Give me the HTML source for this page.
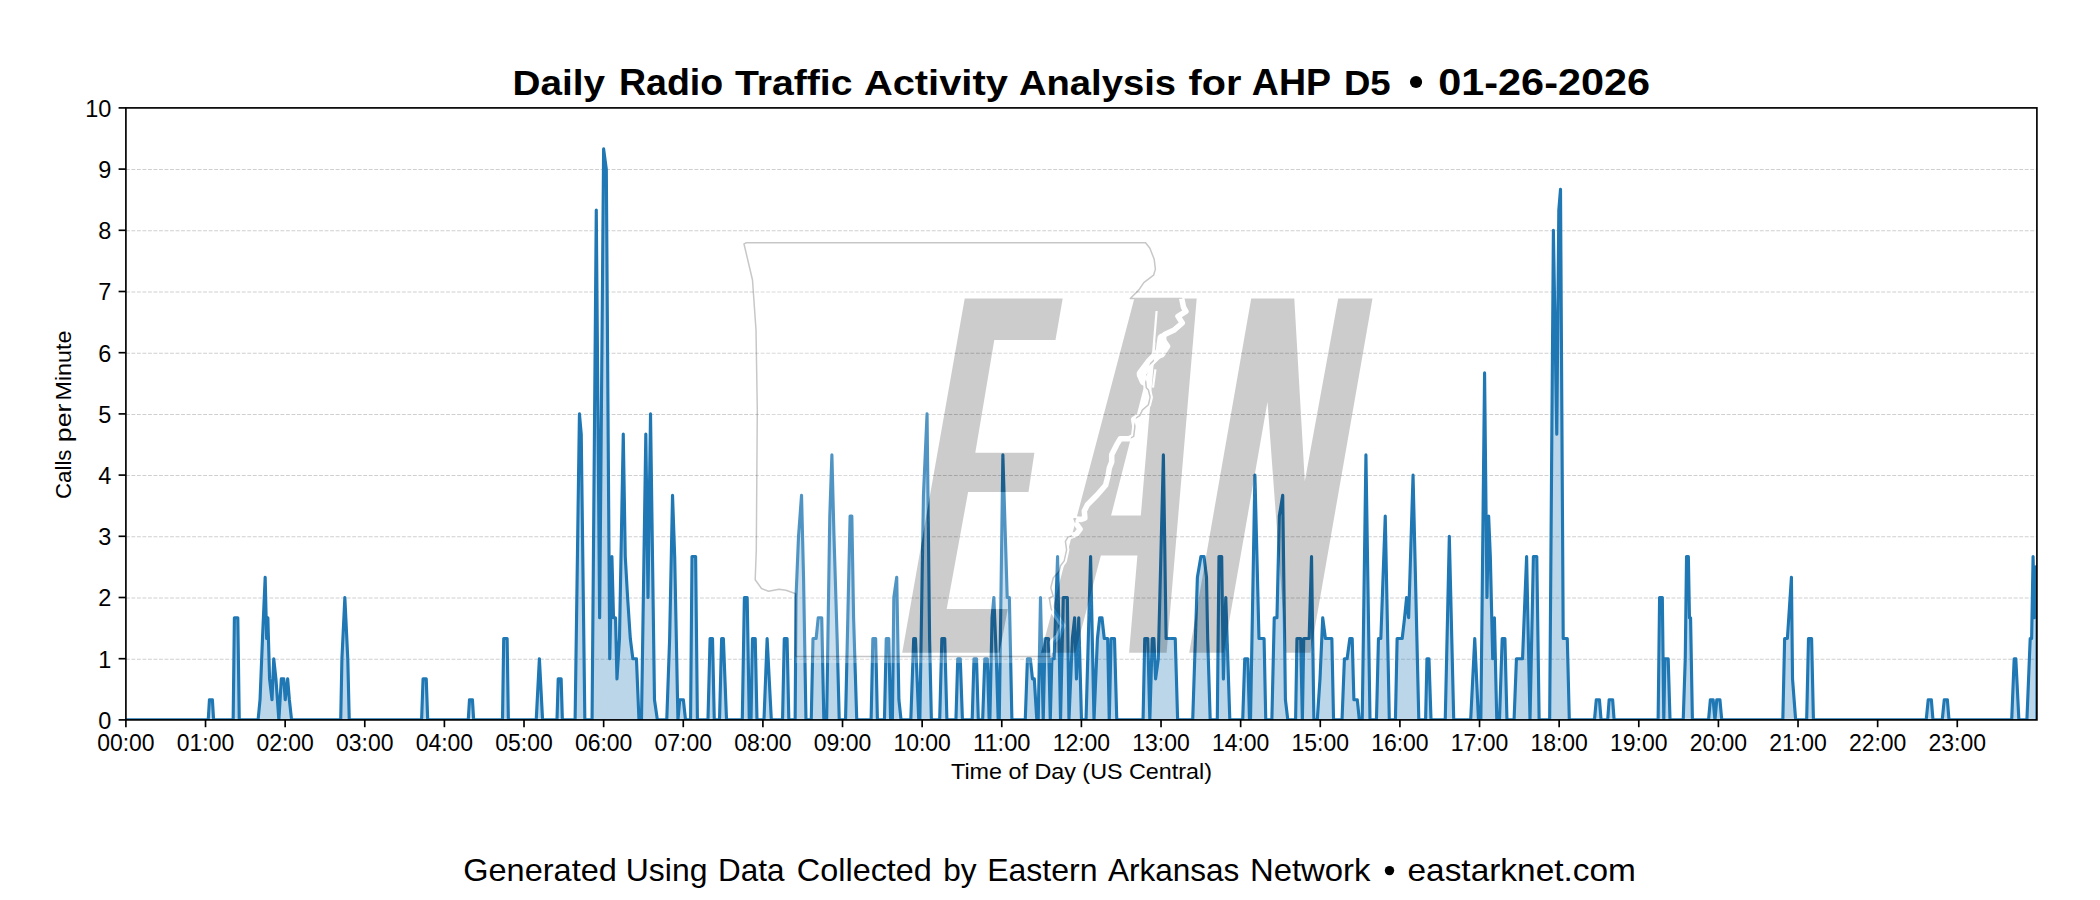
<!DOCTYPE html><html><head><meta charset="utf-8"><style>html,body{margin:0;padding:0;background:#fff;width:2100px;height:900px;overflow:hidden}svg{display:block}text{font-family:"Liberation Sans",sans-serif}</style></head><body>
<svg width="2100" height="900" viewBox="0 0 2100 900">
<line x1="125.9" y1="659.20" x2="2036.9" y2="659.20" stroke="#cfcfcf" stroke-width="1.04" stroke-dasharray="3.85 1.67"/>
<line x1="125.9" y1="598.00" x2="2036.9" y2="598.00" stroke="#cfcfcf" stroke-width="1.04" stroke-dasharray="3.85 1.67"/>
<line x1="125.9" y1="536.80" x2="2036.9" y2="536.80" stroke="#cfcfcf" stroke-width="1.04" stroke-dasharray="3.85 1.67"/>
<line x1="125.9" y1="475.60" x2="2036.9" y2="475.60" stroke="#cfcfcf" stroke-width="1.04" stroke-dasharray="3.85 1.67"/>
<line x1="125.9" y1="414.40" x2="2036.9" y2="414.40" stroke="#cfcfcf" stroke-width="1.04" stroke-dasharray="3.85 1.67"/>
<line x1="125.9" y1="353.20" x2="2036.9" y2="353.20" stroke="#cfcfcf" stroke-width="1.04" stroke-dasharray="3.85 1.67"/>
<line x1="125.9" y1="292.00" x2="2036.9" y2="292.00" stroke="#cfcfcf" stroke-width="1.04" stroke-dasharray="3.85 1.67"/>
<line x1="125.9" y1="230.80" x2="2036.9" y2="230.80" stroke="#cfcfcf" stroke-width="1.04" stroke-dasharray="3.85 1.67"/>
<line x1="125.9" y1="169.60" x2="2036.9" y2="169.60" stroke="#cfcfcf" stroke-width="1.04" stroke-dasharray="3.85 1.67"/>
<defs><clipPath id="cp"><rect x="125.9" y="107.9" width="1911.0" height="612.0"/></clipPath></defs>
<g clip-path="url(#cp)"><polygon points="125.90,719.9 125.90,719.90 208.23,719.90 209.45,699.70 212.38,699.70 213.61,719.90 233.16,719.90 234.38,617.70 237.80,617.70 239.27,719.90 258.09,719.90 260.04,699.70 262.49,638.50 265.17,577.30 266.64,638.50 267.86,617.70 269.57,678.90 272.02,699.70 273.73,658.70 275.93,678.90 278.86,719.90 281.31,678.90 283.75,678.90 285.22,699.70 287.66,678.90 289.37,699.70 291.57,719.90 340.70,719.90 341.92,658.70 344.85,597.50 347.78,658.70 349.25,719.90 421.59,719.90 423.06,678.90 426.24,678.90 427.70,719.90 468.27,719.90 469.49,699.70 472.43,699.70 473.65,719.90 502.49,719.90 503.71,638.50 507.13,638.50 508.35,719.90 536.22,719.90 539.39,658.70 542.57,719.90 556.99,719.90 558.21,678.90 561.15,678.90 562.37,719.90 575.10,719.90 579.43,413.90 581.24,434.10 584.85,719.90 592.06,719.90 596.28,210.10 599.64,617.70 603.61,148.90 606.31,169.10 609.74,658.70 611.91,556.50 613.53,617.70 615.52,617.70 616.96,678.90 619.48,638.50 623.27,434.10 625.26,556.50 627.60,597.50 630.31,638.50 632.84,658.70 636.44,658.70 638.97,719.90 641.49,719.90 645.82,434.10 647.99,597.50 650.52,413.90 654.48,699.70 657.37,719.90 666.75,719.90 669.64,638.50 672.53,495.30 674.69,556.50 677.94,719.90 679.74,699.70 683.35,699.70 685.52,719.90 690.57,719.90 692.01,556.50 695.62,556.50 697.42,719.90 707.97,719.90 710.07,638.50 712.52,638.50 714.27,719.90 719.52,719.90 721.62,638.50 723.38,638.50 726.53,719.90 742.28,719.90 744.38,597.50 747.18,597.50 749.28,719.90 751.03,719.90 752.43,638.50 755.23,638.50 756.98,719.90 763.98,719.90 767.13,638.50 771.33,719.90 782.53,719.90 784.28,638.50 787.08,638.50 788.83,719.90 795.14,719.90 796.01,597.50 798.53,536.30 801.54,495.30 803.54,577.30 805.99,719.90 811.24,719.90 812.99,638.50 816.14,638.50 818.24,617.70 821.74,617.70 823.84,719.90 826.64,719.90 829.79,516.10 831.89,454.90 833.99,536.30 837.14,638.50 839.24,719.90 845.54,719.90 850.09,516.10 851.84,516.10 853.59,617.70 856.75,719.90 871.10,719.90 872.85,638.50 875.65,638.50 877.40,719.90 884.44,719.90 886.25,638.50 888.78,638.50 890.58,719.90 892.39,719.90 893.83,597.50 896.72,577.30 898.89,699.70 901.05,719.90 910.80,719.90 913.69,638.50 915.49,638.50 918.74,719.90 919.83,719.90 923.44,495.30 927.05,413.90 929.58,638.50 931.38,719.90 939.69,719.90 941.85,638.50 944.74,638.50 946.91,719.90 955.93,719.90 957.74,658.70 960.27,658.70 962.43,719.90 972.18,719.90 973.99,658.70 976.51,658.70 978.32,719.90 982.65,719.90 984.82,658.70 987.35,658.70 989.15,719.90 989.87,719.90 992.04,617.70 993.85,597.50 996.37,658.70 998.18,719.90 999.26,719.90 1002.87,454.90 1007.21,597.50 1009.37,597.50 1011.90,719.90 1025.26,719.90 1027.43,658.70 1030.31,658.70 1032.48,678.90 1034.29,678.90 1036.81,719.90 1038.22,719.90 1040.49,597.50 1043.23,719.90 1045.05,638.50 1048.46,638.50 1050.28,719.90 1051.88,658.70 1054.16,658.70 1057.57,556.50 1060.53,719.90 1063.26,597.50 1067.36,597.50 1068.96,719.90 1072.37,638.50 1074.65,617.70 1076.47,678.90 1078.75,617.70 1081.48,719.90 1086.03,719.90 1090.59,556.50 1094.00,719.90 1097.42,638.50 1099.70,617.70 1101.97,617.70 1104.25,638.50 1107.67,638.50 1109.26,719.90 1111.08,638.50 1114.50,638.50 1116.77,719.90 1143.05,719.90 1144.75,638.50 1147.80,638.50 1149.83,719.90 1152.20,638.50 1153.90,638.50 1155.59,678.90 1158.31,658.70 1163.39,454.90 1166.10,638.50 1175.25,638.50 1177.63,719.90 1192.71,719.90 1195.39,638.50 1197.39,577.30 1200.92,556.50 1204.00,556.50 1206.51,577.30 1207.69,638.50 1210.20,719.90 1217.29,719.90 1218.98,556.50 1221.69,556.50 1223.39,678.90 1225.76,597.50 1229.83,719.90 1242.71,719.90 1244.75,658.70 1247.80,658.70 1249.49,719.90 1250.51,719.90 1254.92,475.10 1258.98,638.50 1264.07,638.50 1265.76,719.90 1271.86,719.90 1274.24,617.70 1276.95,617.70 1279.32,516.10 1282.71,495.30 1285.42,699.70 1287.80,719.90 1295.59,719.90 1296.95,638.50 1300.68,638.50 1302.37,719.90 1303.73,638.50 1309.15,638.50 1311.53,556.50 1313.90,719.90 1317.29,719.90 1320.00,678.90 1322.71,617.70 1325.42,638.50 1331.86,638.50 1333.56,719.90 1342.03,719.90 1344.41,658.70 1347.12,658.70 1349.83,638.50 1352.20,638.50 1353.90,699.70 1357.29,699.70 1359.32,719.90 1362.20,719.90 1365.93,454.90 1370.00,719.90 1376.44,719.90 1378.47,638.50 1380.85,638.50 1385.25,516.10 1389.32,719.90 1395.42,719.90 1397.12,638.50 1402.20,638.50 1404.58,617.70 1406.61,597.50 1408.64,617.70 1413.05,475.10 1418.81,719.90 1425.59,719.90 1426.95,658.70 1428.98,658.70 1431.02,719.90 1445.25,719.90 1449.32,536.30 1453.73,719.90 1470.68,719.90 1474.75,638.50 1478.47,719.90 1480.85,719.90 1484.58,372.90 1486.95,597.50 1488.64,516.10 1490.34,556.50 1492.71,658.70 1494.41,617.70 1496.78,719.90 1499.49,719.90 1502.20,638.50 1504.92,638.50 1506.95,719.90 1514.07,719.90 1516.44,658.70 1522.54,658.70 1526.61,556.50 1530.00,719.90 1533.39,556.50 1536.78,556.50 1539.15,719.90 1549.66,719.90 1553.39,230.30 1556.78,434.10 1558.81,210.10 1560.51,189.30 1563.22,638.50 1567.29,638.50 1569.32,719.90 1594.48,719.90 1596.31,699.70 1599.43,699.70 1601.08,719.90 1607.68,719.90 1609.15,699.70 1612.63,699.70 1614.10,719.90 1658.11,719.90 1659.58,597.50 1662.33,597.50 1663.79,719.90 1664.89,658.70 1668.19,658.70 1670.03,719.90 1683.23,719.90 1685.25,658.70 1686.53,556.50 1688.37,556.50 1689.47,617.70 1690.57,617.70 1692.40,719.90 1708.54,719.90 1710.37,699.70 1713.12,699.70 1714.96,719.90 1716.79,699.70 1719.91,699.70 1721.74,719.90 1782.81,719.90 1784.64,638.50 1787.39,638.50 1791.43,577.30 1792.53,678.90 1795.64,719.90 1806.65,719.90 1808.48,638.50 1811.60,638.50 1813.43,719.90 1926.19,719.90 1928.24,699.70 1931.33,699.70 1932.97,719.90 1942.22,719.90 1944.28,699.70 1947.36,699.70 1949.01,719.90 2011.70,719.90 2014.17,658.70 2015.81,658.70 2018.89,719.90 2026.91,719.90 2030.20,638.50 2031.64,638.50 2033.08,556.50 2034.31,617.70 2035.75,566.90 2037.19,577.30 2036.90,719.90 2036.90,719.9" fill="#1f77b4" fill-opacity="0.3"/>
<polyline points="125.90,719.90 208.23,719.90 209.45,699.70 212.38,699.70 213.61,719.90 233.16,719.90 234.38,617.70 237.80,617.70 239.27,719.90 258.09,719.90 260.04,699.70 262.49,638.50 265.17,577.30 266.64,638.50 267.86,617.70 269.57,678.90 272.02,699.70 273.73,658.70 275.93,678.90 278.86,719.90 281.31,678.90 283.75,678.90 285.22,699.70 287.66,678.90 289.37,699.70 291.57,719.90 340.70,719.90 341.92,658.70 344.85,597.50 347.78,658.70 349.25,719.90 421.59,719.90 423.06,678.90 426.24,678.90 427.70,719.90 468.27,719.90 469.49,699.70 472.43,699.70 473.65,719.90 502.49,719.90 503.71,638.50 507.13,638.50 508.35,719.90 536.22,719.90 539.39,658.70 542.57,719.90 556.99,719.90 558.21,678.90 561.15,678.90 562.37,719.90 575.10,719.90 579.43,413.90 581.24,434.10 584.85,719.90 592.06,719.90 596.28,210.10 599.64,617.70 603.61,148.90 606.31,169.10 609.74,658.70 611.91,556.50 613.53,617.70 615.52,617.70 616.96,678.90 619.48,638.50 623.27,434.10 625.26,556.50 627.60,597.50 630.31,638.50 632.84,658.70 636.44,658.70 638.97,719.90 641.49,719.90 645.82,434.10 647.99,597.50 650.52,413.90 654.48,699.70 657.37,719.90 666.75,719.90 669.64,638.50 672.53,495.30 674.69,556.50 677.94,719.90 679.74,699.70 683.35,699.70 685.52,719.90 690.57,719.90 692.01,556.50 695.62,556.50 697.42,719.90 707.97,719.90 710.07,638.50 712.52,638.50 714.27,719.90 719.52,719.90 721.62,638.50 723.38,638.50 726.53,719.90 742.28,719.90 744.38,597.50 747.18,597.50 749.28,719.90 751.03,719.90 752.43,638.50 755.23,638.50 756.98,719.90 763.98,719.90 767.13,638.50 771.33,719.90 782.53,719.90 784.28,638.50 787.08,638.50 788.83,719.90 795.14,719.90 796.01,597.50 798.53,536.30 801.54,495.30 803.54,577.30 805.99,719.90 811.24,719.90 812.99,638.50 816.14,638.50 818.24,617.70 821.74,617.70 823.84,719.90 826.64,719.90 829.79,516.10 831.89,454.90 833.99,536.30 837.14,638.50 839.24,719.90 845.54,719.90 850.09,516.10 851.84,516.10 853.59,617.70 856.75,719.90 871.10,719.90 872.85,638.50 875.65,638.50 877.40,719.90 884.44,719.90 886.25,638.50 888.78,638.50 890.58,719.90 892.39,719.90 893.83,597.50 896.72,577.30 898.89,699.70 901.05,719.90 910.80,719.90 913.69,638.50 915.49,638.50 918.74,719.90 919.83,719.90 923.44,495.30 927.05,413.90 929.58,638.50 931.38,719.90 939.69,719.90 941.85,638.50 944.74,638.50 946.91,719.90 955.93,719.90 957.74,658.70 960.27,658.70 962.43,719.90 972.18,719.90 973.99,658.70 976.51,658.70 978.32,719.90 982.65,719.90 984.82,658.70 987.35,658.70 989.15,719.90 989.87,719.90 992.04,617.70 993.85,597.50 996.37,658.70 998.18,719.90 999.26,719.90 1002.87,454.90 1007.21,597.50 1009.37,597.50 1011.90,719.90 1025.26,719.90 1027.43,658.70 1030.31,658.70 1032.48,678.90 1034.29,678.90 1036.81,719.90 1038.22,719.90 1040.49,597.50 1043.23,719.90 1045.05,638.50 1048.46,638.50 1050.28,719.90 1051.88,658.70 1054.16,658.70 1057.57,556.50 1060.53,719.90 1063.26,597.50 1067.36,597.50 1068.96,719.90 1072.37,638.50 1074.65,617.70 1076.47,678.90 1078.75,617.70 1081.48,719.90 1086.03,719.90 1090.59,556.50 1094.00,719.90 1097.42,638.50 1099.70,617.70 1101.97,617.70 1104.25,638.50 1107.67,638.50 1109.26,719.90 1111.08,638.50 1114.50,638.50 1116.77,719.90 1143.05,719.90 1144.75,638.50 1147.80,638.50 1149.83,719.90 1152.20,638.50 1153.90,638.50 1155.59,678.90 1158.31,658.70 1163.39,454.90 1166.10,638.50 1175.25,638.50 1177.63,719.90 1192.71,719.90 1195.39,638.50 1197.39,577.30 1200.92,556.50 1204.00,556.50 1206.51,577.30 1207.69,638.50 1210.20,719.90 1217.29,719.90 1218.98,556.50 1221.69,556.50 1223.39,678.90 1225.76,597.50 1229.83,719.90 1242.71,719.90 1244.75,658.70 1247.80,658.70 1249.49,719.90 1250.51,719.90 1254.92,475.10 1258.98,638.50 1264.07,638.50 1265.76,719.90 1271.86,719.90 1274.24,617.70 1276.95,617.70 1279.32,516.10 1282.71,495.30 1285.42,699.70 1287.80,719.90 1295.59,719.90 1296.95,638.50 1300.68,638.50 1302.37,719.90 1303.73,638.50 1309.15,638.50 1311.53,556.50 1313.90,719.90 1317.29,719.90 1320.00,678.90 1322.71,617.70 1325.42,638.50 1331.86,638.50 1333.56,719.90 1342.03,719.90 1344.41,658.70 1347.12,658.70 1349.83,638.50 1352.20,638.50 1353.90,699.70 1357.29,699.70 1359.32,719.90 1362.20,719.90 1365.93,454.90 1370.00,719.90 1376.44,719.90 1378.47,638.50 1380.85,638.50 1385.25,516.10 1389.32,719.90 1395.42,719.90 1397.12,638.50 1402.20,638.50 1404.58,617.70 1406.61,597.50 1408.64,617.70 1413.05,475.10 1418.81,719.90 1425.59,719.90 1426.95,658.70 1428.98,658.70 1431.02,719.90 1445.25,719.90 1449.32,536.30 1453.73,719.90 1470.68,719.90 1474.75,638.50 1478.47,719.90 1480.85,719.90 1484.58,372.90 1486.95,597.50 1488.64,516.10 1490.34,556.50 1492.71,658.70 1494.41,617.70 1496.78,719.90 1499.49,719.90 1502.20,638.50 1504.92,638.50 1506.95,719.90 1514.07,719.90 1516.44,658.70 1522.54,658.70 1526.61,556.50 1530.00,719.90 1533.39,556.50 1536.78,556.50 1539.15,719.90 1549.66,719.90 1553.39,230.30 1556.78,434.10 1558.81,210.10 1560.51,189.30 1563.22,638.50 1567.29,638.50 1569.32,719.90 1594.48,719.90 1596.31,699.70 1599.43,699.70 1601.08,719.90 1607.68,719.90 1609.15,699.70 1612.63,699.70 1614.10,719.90 1658.11,719.90 1659.58,597.50 1662.33,597.50 1663.79,719.90 1664.89,658.70 1668.19,658.70 1670.03,719.90 1683.23,719.90 1685.25,658.70 1686.53,556.50 1688.37,556.50 1689.47,617.70 1690.57,617.70 1692.40,719.90 1708.54,719.90 1710.37,699.70 1713.12,699.70 1714.96,719.90 1716.79,699.70 1719.91,699.70 1721.74,719.90 1782.81,719.90 1784.64,638.50 1787.39,638.50 1791.43,577.30 1792.53,678.90 1795.64,719.90 1806.65,719.90 1808.48,638.50 1811.60,638.50 1813.43,719.90 1926.19,719.90 1928.24,699.70 1931.33,699.70 1932.97,719.90 1942.22,719.90 1944.28,699.70 1947.36,699.70 1949.01,719.90 2011.70,719.90 2014.17,658.70 2015.81,658.70 2018.89,719.90 2026.91,719.90 2030.20,638.50 2031.64,638.50 2033.08,556.50 2034.31,617.70 2035.75,566.90 2037.19,577.30 2036.90,719.90" fill="none" stroke="#1f77b4" stroke-width="3.125" stroke-linejoin="round" stroke-linecap="butt"/></g>
<defs><clipPath id="lc"><path d="M964.7,298.4 L1062.7,298.4 L1055.5,339.9 L994.3,339.9 L975.3,452.7 L1034.4,452.7 L1028.5,492.0 L968.1,492.0 L946.7,608.9 L1007.8,608.9 L999.4,652.8 L902.2,652.8 Z M1134.3,298.4 L1196.7,298.4 L1166.6,652.8 L1129.1,652.8 L1137.4,555.6 L1100.9,555.6 L1075.3,652.8 L1041.0,652.8 Z M1155.6,341.1 L1140.8,515.6 L1111.1,515.6 Z M1251.2,298.4 L1294.3,298.4 L1304.8,481.2 L1338.2,298.4 L1372.5,298.4 L1310.5,652.8 L1286.0,652.8 L1267.5,401.7 L1223.7,652.8 L1189.2,652.8 Z" clip-rule="evenodd"/></clipPath><mask id="nl" maskUnits="userSpaceOnUse" x="0" y="0" width="2100" height="900"><rect x="0" y="0" width="2100" height="900" fill="#fff"/><path d="M964.7,298.4 L1062.7,298.4 L1055.5,339.9 L994.3,339.9 L975.3,452.7 L1034.4,452.7 L1028.5,492.0 L968.1,492.0 L946.7,608.9 L1007.8,608.9 L999.4,652.8 L902.2,652.8 Z M1134.3,298.4 L1196.7,298.4 L1166.6,652.8 L1129.1,652.8 L1137.4,555.6 L1100.9,555.6 L1075.3,652.8 L1041.0,652.8 Z M1155.6,341.1 L1140.8,515.6 L1111.1,515.6 Z M1251.2,298.4 L1294.3,298.4 L1304.8,481.2 L1338.2,298.4 L1372.5,298.4 L1310.5,652.8 L1286.0,652.8 L1267.5,401.7 L1223.7,652.8 L1189.2,652.8 Z" fill="#000" fill-rule="evenodd"/></mask><mask id="nl2" maskUnits="userSpaceOnUse" x="0" y="0" width="2100" height="900"><rect x="0" y="0" width="2100" height="900" fill="#fff"/><path d="M964.7,298.4 L1062.7,298.4 L1055.5,339.9 L994.3,339.9 L975.3,452.7 L1034.4,452.7 L1028.5,492.0 L968.1,492.0 L946.7,608.9 L1007.8,608.9 L999.4,652.8 L902.2,652.8 Z M1134.3,298.4 L1196.7,298.4 L1166.6,652.8 L1129.1,652.8 L1137.4,555.6 L1100.9,555.6 L1075.3,652.8 L1041.0,652.8 Z M1155.6,341.1 L1140.8,515.6 L1111.1,515.6 Z M1251.2,298.4 L1294.3,298.4 L1304.8,481.2 L1338.2,298.4 L1372.5,298.4 L1310.5,652.8 L1286.0,652.8 L1267.5,401.7 L1223.7,652.8 L1189.2,652.8 Z" fill="#000" fill-rule="evenodd"/><polyline points="1181.7,298.4 1183.5,307.1 1185.9,311.4 1178.0,316.3 1182.3,323.0 1173.7,330.3 1164.6,334.6 1162.1,338.2 1167.6,346.2 1162.1,354.7 1157.9,356.5 1148.1,365.7 1140.1,375.5 1145.6,381.0 1146.3,387.7 1148.4,390.0 1150.2,397.3 1148.4,404.7 1142.3,410.1 1139.8,415.6 1133.7,419.3 1134.9,426.6 1133.7,436.4 1128.8,438.8 1120.3,438.8 1116.6,444.9 1111.7,454.7 1111.7,462.0 1109.3,468.1 1108.1,475.5 1105.6,485.2 1097.1,495.0 1087.4,504.8 1084.3,510.9 1084.9,518.2 1081.3,519.4 1074.0,518.8 1075.8,523.1 1080.1,529.2 1076.4,534.1 1067.9,537.1 1065.4,541.4 1066.6,549.9 1064.2,560.9 1060.5,565.8 1059.3,570.7 1053.2,578.0 1050.8,587.8 1053.2,596.3 1049.3,598.0 1050.2,603.3 1051.1,608.7 1059.1,620.2 1062.7,625.6 1058.2,636.2 1052.0,642.4 1052.9,650.4 1052.0,656.6" fill="none" stroke="#fff" stroke-width="5.5" stroke-linejoin="round"/><polyline points="1162,338 1160,352 1150,362 1141,374 1144,381" fill="none" stroke="#fff" stroke-width="9" stroke-linejoin="round" stroke-linecap="round"/><polyline points="1156.6,311 1152.4,362" fill="none" stroke="#fff" stroke-width="2.2"/><polyline points="1155.4,369.4 1153,387.7" fill="none" stroke="#fff" stroke-width="2.2"/></mask><mask id="rv" maskUnits="userSpaceOnUse" x="0" y="0" width="2100" height="900"><rect x="0" y="0" width="2100" height="900" fill="#fff"/><polyline points="1181.7,298.4 1183.5,307.1 1185.9,311.4 1178.0,316.3 1182.3,323.0 1173.7,330.3 1164.6,334.6 1162.1,338.2 1167.6,346.2 1162.1,354.7 1157.9,356.5 1148.1,365.7 1140.1,375.5 1145.6,381.0 1146.3,387.7 1148.4,390.0 1150.2,397.3 1148.4,404.7 1142.3,410.1 1139.8,415.6 1133.7,419.3 1134.9,426.6 1133.7,436.4 1128.8,438.8 1120.3,438.8 1116.6,444.9 1111.7,454.7 1111.7,462.0 1109.3,468.1 1108.1,475.5 1105.6,485.2 1097.1,495.0 1087.4,504.8 1084.3,510.9 1084.9,518.2 1081.3,519.4 1074.0,518.8 1075.8,523.1 1080.1,529.2 1076.4,534.1 1067.9,537.1 1065.4,541.4 1066.6,549.9 1064.2,560.9 1060.5,565.8 1059.3,570.7 1053.2,578.0 1050.8,587.8 1053.2,596.3 1049.3,598.0 1050.2,603.3 1051.1,608.7 1059.1,620.2 1062.7,625.6 1058.2,636.2 1052.0,642.4 1052.9,650.4 1052.0,656.6" fill="none" stroke="#000" stroke-width="5.5" stroke-linejoin="round"/><polyline points="1162,338 1160,352 1150,362 1141,374 1144,381" fill="none" stroke="#000" stroke-width="9" stroke-linejoin="round" stroke-linecap="round"/><polyline points="1156.6,311 1152.4,362" fill="none" stroke="#000" stroke-width="2.2"/><polyline points="1155.4,369.4 1153,387.7" fill="none" stroke="#000" stroke-width="2.2"/></mask></defs>
<polygon points="795.8,656.6 795.8,593.8 786.0,590.3 779.0,589.2 768.5,591.3 761.5,588.5 755.2,579.8 756.3,550.0 757.3,410.0 756.0,330.0 752.5,280.0 744.0,244.0 746.0,242.8 1145.6,242.8 1149.9,248.3 1154.2,259.3 1155.4,269.1 1153.6,275.2 1143.8,282.6 1138.9,289.9 1130.3,298.5 1180.0,298.4 1181.7,298.4 1183.5,307.1 1185.9,311.4 1178.0,316.3 1182.3,323.0 1173.7,330.3 1164.6,334.6 1162.1,338.2 1167.6,346.2 1162.1,354.7 1157.9,356.5 1148.1,365.7 1140.1,375.5 1145.6,381.0 1146.3,387.7 1148.4,390.0 1150.2,397.3 1148.4,404.7 1142.3,410.1 1139.8,415.6 1133.7,419.3 1134.9,426.6 1133.7,436.4 1128.8,438.8 1120.3,438.8 1116.6,444.9 1111.7,454.7 1111.7,462.0 1109.3,468.1 1108.1,475.5 1105.6,485.2 1097.1,495.0 1087.4,504.8 1084.3,510.9 1084.9,518.2 1081.3,519.4 1074.0,518.8 1075.8,523.1 1080.1,529.2 1076.4,534.1 1067.9,537.1 1065.4,541.4 1066.6,549.9 1064.2,560.9 1060.5,565.8 1059.3,570.7 1053.2,578.0 1050.8,587.8 1053.2,596.3 1049.3,598.0 1050.2,603.3 1051.1,608.7 1059.1,620.2 1062.7,625.6 1058.2,636.2 1052.0,642.4 1052.9,650.4 1052.0,656.6" fill="#fff" fill-opacity="0.22" mask="url(#nl2)"/>
<rect x="795.8" y="656.6" width="256.2" height="6.4" fill="#fff" fill-opacity="0.22"/>
<path d="M964.7,298.4 L1062.7,298.4 L1055.5,339.9 L994.3,339.9 L975.3,452.7 L1034.4,452.7 L1028.5,492.0 L968.1,492.0 L946.7,608.9 L1007.8,608.9 L999.4,652.8 L902.2,652.8 Z M1134.3,298.4 L1196.7,298.4 L1166.6,652.8 L1129.1,652.8 L1137.4,555.6 L1100.9,555.6 L1075.3,652.8 L1041.0,652.8 Z M1155.6,341.1 L1140.8,515.6 L1111.1,515.6 Z M1251.2,298.4 L1294.3,298.4 L1304.8,481.2 L1338.2,298.4 L1372.5,298.4 L1310.5,652.8 L1286.0,652.8 L1267.5,401.7 L1223.7,652.8 L1189.2,652.8 Z" transform="translate(2,5)" fill="#fff" fill-opacity="0.25" fill-rule="evenodd" mask="url(#nl)"/>
<path d="M964.7,298.4 L1062.7,298.4 L1055.5,339.9 L994.3,339.9 L975.3,452.7 L1034.4,452.7 L1028.5,492.0 L968.1,492.0 L946.7,608.9 L1007.8,608.9 L999.4,652.8 L902.2,652.8 Z M1134.3,298.4 L1196.7,298.4 L1166.6,652.8 L1129.1,652.8 L1137.4,555.6 L1100.9,555.6 L1075.3,652.8 L1041.0,652.8 Z M1155.6,341.1 L1140.8,515.6 L1111.1,515.6 Z M1251.2,298.4 L1294.3,298.4 L1304.8,481.2 L1338.2,298.4 L1372.5,298.4 L1310.5,652.8 L1286.0,652.8 L1267.5,401.7 L1223.7,652.8 L1189.2,652.8 Z" fill="#000" fill-opacity="0.2" fill-rule="evenodd" mask="url(#rv)"/>
<polyline points="795.8,656.6 795.8,593.8 786.0,590.3 779.0,589.2 768.5,591.3 761.5,588.5 755.2,579.8 756.3,550.0 757.3,410.0 756.0,330.0 752.5,280.0 744.0,244.0 746.0,242.8 1145.6,242.8 1149.9,248.3 1154.2,259.3 1155.4,269.1 1153.6,275.2 1143.8,282.6 1138.9,289.9 1130.3,298.5 1180.0,298.4 1181.7,298.4 1183.5,307.1 1185.9,311.4 1178.0,316.3 1182.3,323.0 1173.7,330.3 1164.6,334.6 1162.1,338.2 1167.6,346.2 1162.1,354.7 1157.9,356.5 1148.1,365.7 1140.1,375.5 1145.6,381.0 1146.3,387.7 1148.4,390.0 1150.2,397.3 1148.4,404.7 1142.3,410.1 1139.8,415.6 1133.7,419.3 1134.9,426.6 1133.7,436.4 1128.8,438.8 1120.3,438.8 1116.6,444.9 1111.7,454.7 1111.7,462.0 1109.3,468.1 1108.1,475.5 1105.6,485.2 1097.1,495.0 1087.4,504.8 1084.3,510.9 1084.9,518.2 1081.3,519.4 1074.0,518.8 1075.8,523.1 1080.1,529.2 1076.4,534.1 1067.9,537.1 1065.4,541.4 1066.6,549.9 1064.2,560.9 1060.5,565.8 1059.3,570.7 1053.2,578.0 1050.8,587.8 1053.2,596.3 1049.3,598.0 1050.2,603.3 1051.1,608.7 1059.1,620.2 1062.7,625.6 1058.2,636.2 1052.0,642.4 1052.9,650.4 1052.0,656.6 795.8,656.6" fill="none" stroke="#000" stroke-opacity="0.22" stroke-width="1.5" stroke-linejoin="round" mask="url(#nl)"/>
<rect x="125.9" y="107.9" width="1911.00" height="612.00" fill="none" stroke="#000" stroke-width="1.67"/>
<line x1="118.60" y1="719.90" x2="125.9" y2="719.90" stroke="#000" stroke-width="1.67"/>
<text x="111.3" y="728.80" font-size="23.5" text-anchor="end">0</text>
<line x1="118.60" y1="658.70" x2="125.9" y2="658.70" stroke="#000" stroke-width="1.67"/>
<text x="111.3" y="667.60" font-size="23.5" text-anchor="end">1</text>
<line x1="118.60" y1="597.50" x2="125.9" y2="597.50" stroke="#000" stroke-width="1.67"/>
<text x="111.3" y="606.40" font-size="23.5" text-anchor="end">2</text>
<line x1="118.60" y1="536.30" x2="125.9" y2="536.30" stroke="#000" stroke-width="1.67"/>
<text x="111.3" y="545.20" font-size="23.5" text-anchor="end">3</text>
<line x1="118.60" y1="475.10" x2="125.9" y2="475.10" stroke="#000" stroke-width="1.67"/>
<text x="111.3" y="484.00" font-size="23.5" text-anchor="end">4</text>
<line x1="118.60" y1="413.90" x2="125.9" y2="413.90" stroke="#000" stroke-width="1.67"/>
<text x="111.3" y="422.80" font-size="23.5" text-anchor="end">5</text>
<line x1="118.60" y1="352.70" x2="125.9" y2="352.70" stroke="#000" stroke-width="1.67"/>
<text x="111.3" y="361.60" font-size="23.5" text-anchor="end">6</text>
<line x1="118.60" y1="291.50" x2="125.9" y2="291.50" stroke="#000" stroke-width="1.67"/>
<text x="111.3" y="300.40" font-size="23.5" text-anchor="end">7</text>
<line x1="118.60" y1="230.30" x2="125.9" y2="230.30" stroke="#000" stroke-width="1.67"/>
<text x="111.3" y="239.20" font-size="23.5" text-anchor="end">8</text>
<line x1="118.60" y1="169.10" x2="125.9" y2="169.10" stroke="#000" stroke-width="1.67"/>
<text x="111.3" y="178.00" font-size="23.5" text-anchor="end">9</text>
<line x1="118.60" y1="107.90" x2="125.9" y2="107.90" stroke="#000" stroke-width="1.67"/>
<text x="111.3" y="116.80" font-size="23.5" text-anchor="end">10</text>
<line x1="125.90" y1="719.9" x2="125.90" y2="727.20" stroke="#000" stroke-width="1.67"/>
<text x="125.90" y="751.3" font-size="23.5" text-anchor="middle" textLength="57.5" lengthAdjust="spacingAndGlyphs">00:00</text>
<line x1="205.53" y1="719.9" x2="205.53" y2="727.20" stroke="#000" stroke-width="1.67"/>
<text x="205.53" y="751.3" font-size="23.5" text-anchor="middle" textLength="57.5" lengthAdjust="spacingAndGlyphs">01:00</text>
<line x1="285.15" y1="719.9" x2="285.15" y2="727.20" stroke="#000" stroke-width="1.67"/>
<text x="285.15" y="751.3" font-size="23.5" text-anchor="middle" textLength="57.5" lengthAdjust="spacingAndGlyphs">02:00</text>
<line x1="364.77" y1="719.9" x2="364.77" y2="727.20" stroke="#000" stroke-width="1.67"/>
<text x="364.77" y="751.3" font-size="23.5" text-anchor="middle" textLength="57.5" lengthAdjust="spacingAndGlyphs">03:00</text>
<line x1="444.40" y1="719.9" x2="444.40" y2="727.20" stroke="#000" stroke-width="1.67"/>
<text x="444.40" y="751.3" font-size="23.5" text-anchor="middle" textLength="57.5" lengthAdjust="spacingAndGlyphs">04:00</text>
<line x1="524.02" y1="719.9" x2="524.02" y2="727.20" stroke="#000" stroke-width="1.67"/>
<text x="524.02" y="751.3" font-size="23.5" text-anchor="middle" textLength="57.5" lengthAdjust="spacingAndGlyphs">05:00</text>
<line x1="603.65" y1="719.9" x2="603.65" y2="727.20" stroke="#000" stroke-width="1.67"/>
<text x="603.65" y="751.3" font-size="23.5" text-anchor="middle" textLength="57.5" lengthAdjust="spacingAndGlyphs">06:00</text>
<line x1="683.27" y1="719.9" x2="683.27" y2="727.20" stroke="#000" stroke-width="1.67"/>
<text x="683.27" y="751.3" font-size="23.5" text-anchor="middle" textLength="57.5" lengthAdjust="spacingAndGlyphs">07:00</text>
<line x1="762.90" y1="719.9" x2="762.90" y2="727.20" stroke="#000" stroke-width="1.67"/>
<text x="762.90" y="751.3" font-size="23.5" text-anchor="middle" textLength="57.5" lengthAdjust="spacingAndGlyphs">08:00</text>
<line x1="842.52" y1="719.9" x2="842.52" y2="727.20" stroke="#000" stroke-width="1.67"/>
<text x="842.52" y="751.3" font-size="23.5" text-anchor="middle" textLength="57.5" lengthAdjust="spacingAndGlyphs">09:00</text>
<line x1="922.15" y1="719.9" x2="922.15" y2="727.20" stroke="#000" stroke-width="1.67"/>
<text x="922.15" y="751.3" font-size="23.5" text-anchor="middle" textLength="57.5" lengthAdjust="spacingAndGlyphs">10:00</text>
<line x1="1001.77" y1="719.9" x2="1001.77" y2="727.20" stroke="#000" stroke-width="1.67"/>
<text x="1001.77" y="751.3" font-size="23.5" text-anchor="middle" textLength="57.5" lengthAdjust="spacingAndGlyphs">11:00</text>
<line x1="1081.40" y1="719.9" x2="1081.40" y2="727.20" stroke="#000" stroke-width="1.67"/>
<text x="1081.40" y="751.3" font-size="23.5" text-anchor="middle" textLength="57.5" lengthAdjust="spacingAndGlyphs">12:00</text>
<line x1="1161.03" y1="719.9" x2="1161.03" y2="727.20" stroke="#000" stroke-width="1.67"/>
<text x="1161.03" y="751.3" font-size="23.5" text-anchor="middle" textLength="57.5" lengthAdjust="spacingAndGlyphs">13:00</text>
<line x1="1240.65" y1="719.9" x2="1240.65" y2="727.20" stroke="#000" stroke-width="1.67"/>
<text x="1240.65" y="751.3" font-size="23.5" text-anchor="middle" textLength="57.5" lengthAdjust="spacingAndGlyphs">14:00</text>
<line x1="1320.28" y1="719.9" x2="1320.28" y2="727.20" stroke="#000" stroke-width="1.67"/>
<text x="1320.28" y="751.3" font-size="23.5" text-anchor="middle" textLength="57.5" lengthAdjust="spacingAndGlyphs">15:00</text>
<line x1="1399.90" y1="719.9" x2="1399.90" y2="727.20" stroke="#000" stroke-width="1.67"/>
<text x="1399.90" y="751.3" font-size="23.5" text-anchor="middle" textLength="57.5" lengthAdjust="spacingAndGlyphs">16:00</text>
<line x1="1479.53" y1="719.9" x2="1479.53" y2="727.20" stroke="#000" stroke-width="1.67"/>
<text x="1479.53" y="751.3" font-size="23.5" text-anchor="middle" textLength="57.5" lengthAdjust="spacingAndGlyphs">17:00</text>
<line x1="1559.15" y1="719.9" x2="1559.15" y2="727.20" stroke="#000" stroke-width="1.67"/>
<text x="1559.15" y="751.3" font-size="23.5" text-anchor="middle" textLength="57.5" lengthAdjust="spacingAndGlyphs">18:00</text>
<line x1="1638.78" y1="719.9" x2="1638.78" y2="727.20" stroke="#000" stroke-width="1.67"/>
<text x="1638.78" y="751.3" font-size="23.5" text-anchor="middle" textLength="57.5" lengthAdjust="spacingAndGlyphs">19:00</text>
<line x1="1718.40" y1="719.9" x2="1718.40" y2="727.20" stroke="#000" stroke-width="1.67"/>
<text x="1718.40" y="751.3" font-size="23.5" text-anchor="middle" textLength="57.5" lengthAdjust="spacingAndGlyphs">20:00</text>
<line x1="1798.03" y1="719.9" x2="1798.03" y2="727.20" stroke="#000" stroke-width="1.67"/>
<text x="1798.03" y="751.3" font-size="23.5" text-anchor="middle" textLength="57.5" lengthAdjust="spacingAndGlyphs">21:00</text>
<line x1="1877.65" y1="719.9" x2="1877.65" y2="727.20" stroke="#000" stroke-width="1.67"/>
<text x="1877.65" y="751.3" font-size="23.5" text-anchor="middle" textLength="57.5" lengthAdjust="spacingAndGlyphs">22:00</text>
<line x1="1957.28" y1="719.9" x2="1957.28" y2="727.20" stroke="#000" stroke-width="1.67"/>
<text x="1957.28" y="751.3" font-size="23.5" text-anchor="middle" textLength="57.5" lengthAdjust="spacingAndGlyphs">23:00</text>
<text x="951" y="778.7" font-size="22.5" textLength="261" lengthAdjust="spacingAndGlyphs">Time of Day (US Central)</text>
<text transform="translate(70.9,498.99) rotate(-90) scale(0.9898,1)" font-size="22.5">Calls</text><text transform="translate(70.9,442.19) rotate(-90) scale(1.1875,1)" font-size="22.5">per</text><text transform="translate(70.9,400.54) rotate(-90) scale(1.0379,1)" font-size="22.5">Minute</text>
<text transform="translate(512.52,94.8) scale(1.0753,1)" font-size="36" font-weight="bold">Daily</text><text transform="translate(618.96,94.8) scale(1.0418,1)" font-size="36" font-weight="bold">Radio</text><text transform="translate(735.00,94.8) scale(1.0879,1)" font-size="36" font-weight="bold">Traffic</text><text transform="translate(863.89,94.8) scale(1.1078,1)" font-size="36" font-weight="bold">Activity</text><text transform="translate(1018.94,94.8) scale(1.0616,1)" font-size="36" font-weight="bold">Analysis</text><text transform="translate(1188.60,94.8) scale(1.1000,1)" font-size="36" font-weight="bold">for</text><text transform="translate(1251.86,94.8) scale(1.0419,1)" font-size="36" font-weight="bold">AHP</text><text transform="translate(1343.98,94.8) scale(1.0156,1)" font-size="36" font-weight="bold">D5</text><circle cx="1416.05" cy="82" r="6.1" fill="#000"/><text transform="translate(1438.15,94.8) scale(1.1514,1)" font-size="36" font-weight="bold">01-26-2026</text>
<text transform="translate(463.23,881.0) scale(1.0662,1)" font-size="30.5">Generated</text><text transform="translate(625.81,881.0) scale(1.0467,1)" font-size="30.5">Using</text><text transform="translate(717.94,881.0) scale(1.0317,1)" font-size="30.5">Data</text><text transform="translate(796.84,881.0) scale(1.0624,1)" font-size="30.5">Collected</text><text transform="translate(943.26,881.0) scale(1.0355,1)" font-size="30.5">by</text><text transform="translate(987.20,881.0) scale(1.0500,1)" font-size="30.5">Eastern</text><text transform="translate(1107.90,881.0) scale(1.0346,1)" font-size="30.5">Arkansas</text><text transform="translate(1249.94,881.0) scale(1.0782,1)" font-size="30.5">Network</text><circle cx="1389.5" cy="870.6" r="4.7" fill="#000"/><text transform="translate(1407.50,881.0) scale(1.0956,1)" font-size="30.5">eastarknet.com</text>
</svg></body></html>
